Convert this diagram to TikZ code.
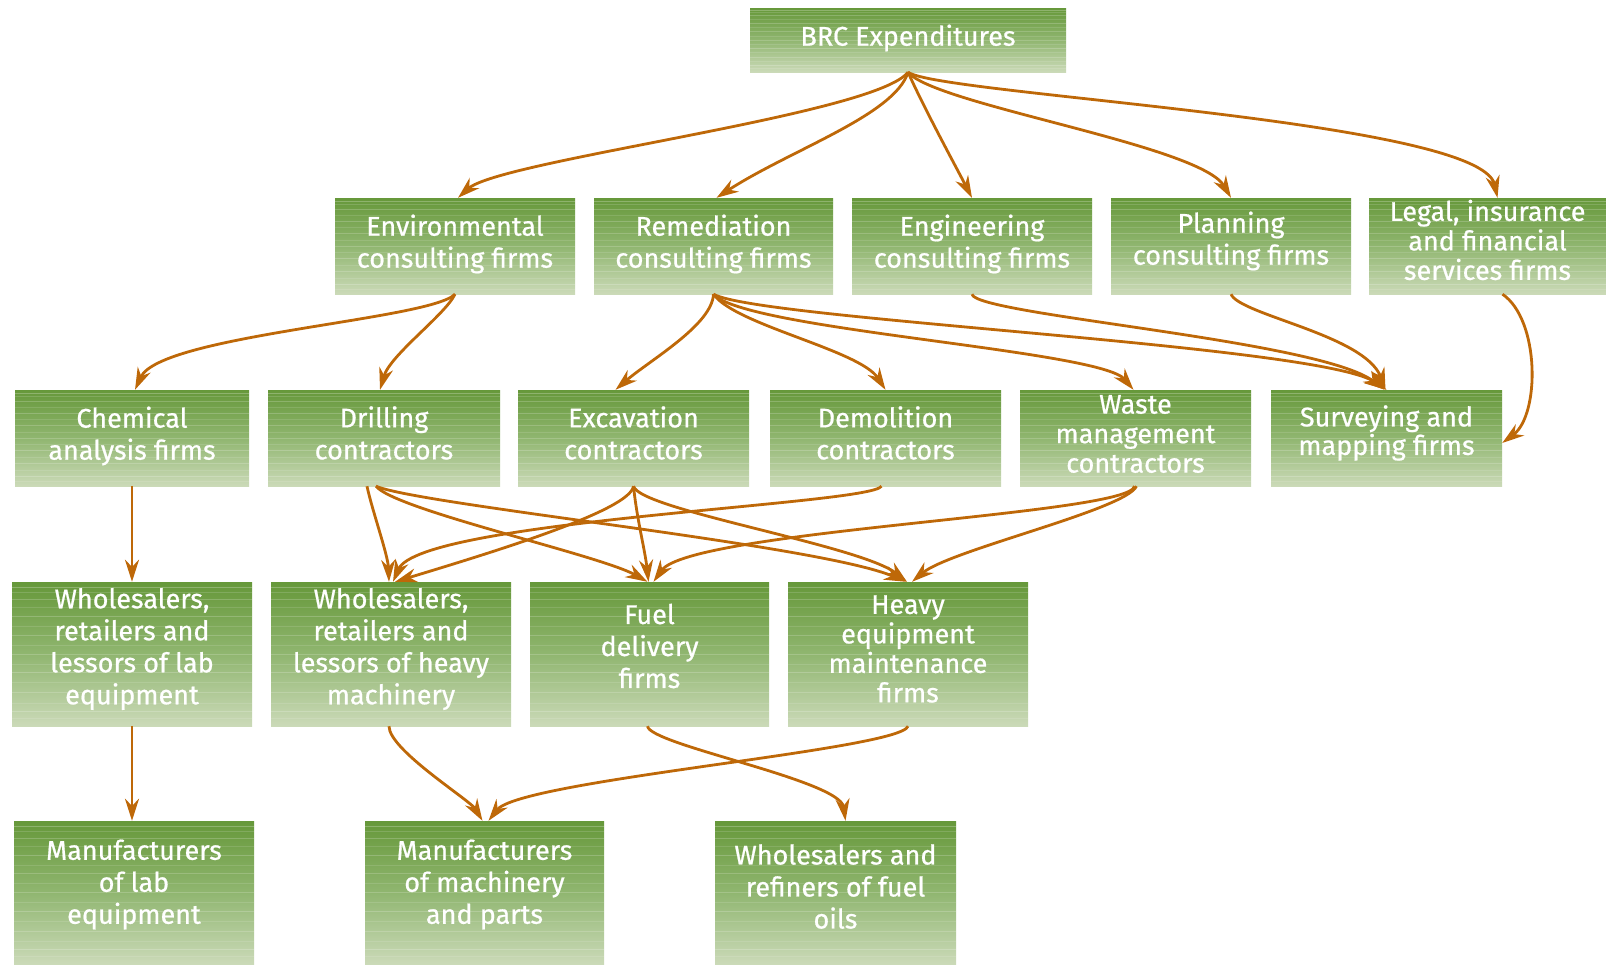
\documentclass[tikz,border=0pt]{standalone}
\usepackage{fontspec}
\setmainfont{Fira Sans}[FakeBold=0.7]
\usetikzlibrary{arrows.meta,calc}
\definecolor{gtop}{RGB}{102,152,58}
\definecolor{gmid}{RGB}{144,182,112}
\definecolor{gbot}{RGB}{203,218,184}
\definecolor{arrc}{RGB}{190,104,8}
\tikzset{
  box/.style={rectangle, inner sep=0pt, top color=gtop, bottom color=gbot, middle color=gmid,
    path picture={
      \foreach \f/\o in {0.04/0.25,0.07/0.15,0.12/0.2,0.18/0.12,0.24/0.2,0.31/0.12,0.37/0.18,0.44/0.12,0.5/0.18,0.57/0.12,0.63/0.2,0.7/0.12,0.77/0.18,0.84/0.12,0.9/0.2,0.95/0.12}
        \draw[white, opacity=\o, line width=0.9pt]
          ($(path picture bounding box.north west)!\f!(path picture bounding box.south west)$) --
          ($(path picture bounding box.north east)!\f!(path picture bounding box.south east)$);
    }},
  lbl/.style={text=white, align=center, inner sep=0pt, font=\fontsize{27}{32}\selectfont},
  tight/.style={font=\fontsize{27}{29.5}\selectfont},
  arr/.style={draw=arrc, line width=2.8pt, -{Stealth[length=22pt,width=14pt,inset=7pt]}},
}
\begin{document}
\begin{tikzpicture}[x=1pt,y=-1pt]
\useasboundingbox (0,0) rectangle (1606,964);
% boxes
\node[box, minimum width=316pt, minimum height=64pt] (brc) at (908,40) {};
\node[box, minimum width=240pt, minimum height=96pt] (env) at (455,246) {};
\node[box, minimum width=239pt, minimum height=96pt] (rem) at (713.5,246) {};
\node[box, minimum width=240pt, minimum height=96pt] (eng) at (972,246) {};
\node[box, minimum width=240pt, minimum height=96pt] (plan) at (1231,246) {};
\node[box, minimum width=237pt, minimum height=96pt] (legal) at (1487.5,246) {};
\node[box, minimum width=234pt, minimum height=96pt] (chem) at (132,438) {};
\node[box, minimum width=232pt, minimum height=96pt] (drill) at (384,438) {};
\node[box, minimum width=231pt, minimum height=96pt] (exc) at (633.5,438) {};
\node[box, minimum width=231pt, minimum height=96pt] (demo) at (885.5,438) {};
\node[box, minimum width=231pt, minimum height=96pt] (waste) at (1135.5,438) {};
\node[box, minimum width=231pt, minimum height=96pt] (surv) at (1386.5,438) {};
\node[box, minimum width=240pt, minimum height=144pt] (wlab) at (132,654) {};
\node[box, minimum width=240pt, minimum height=144pt] (wheavy) at (391,654) {};
\node[box, minimum width=239pt, minimum height=144pt] (fuel) at (649.5,654) {};
\node[box, minimum width=240pt, minimum height=144pt] (heavy) at (908,654) {};
\node[box, minimum width=240pt, minimum height=143pt] (mlab) at (134,892.5) {};
\node[box, minimum width=239pt, minimum height=143pt] (mmach) at (484.5,892.5) {};
\node[box, minimum width=241pt, minimum height=143pt] (wref) at (835.5,892.5) {};
% labels
\node[lbl] (tbrc) at ([yshift=2pt]brc.center) {BRC Expenditures};
\node[lbl] (tenv) at ([yshift=2pt]env.center) {Environmental\\consulting firms};
\node[lbl] (trem) at ([yshift=2pt]rem.center) {Remediation\\consulting firms};
\node[lbl] (teng) at ([yshift=2pt]eng.center) {Engineering\\consulting firms};
\node[lbl] (tplan) at ([yshift=5pt]plan.center) {Planning\\consulting firms};
\node[lbl, tight] (tlegal) at ([yshift=6pt]legal.center) {Legal, insurance\\and financial\\services firms};
\node[lbl] (tchem) at ([yshift=2pt]chem.center) {Chemical\\analysis firms};
\node[lbl] (tdrill) at ([yshift=5pt]drill.center) {Drilling\\contractors};
\node[lbl] (texc) at ([yshift=5pt]exc.center) {Excavation\\contractors};
\node[lbl] (tdemo) at ([yshift=5pt]demo.center) {Demolition\\contractors};
\node[lbl, tight] (twaste) at ([yshift=4pt]waste.center) {Waste\\management\\contractors};
\node[lbl, font=\fontsize{27}{28.5}\selectfont] (tsurv) at ([yshift=5pt]surv.center) {Surveying and\\mapping firms};
\node[lbl] (twlab) at ([yshift=5pt]wlab.center) {Wholesalers,\\retailers and\\lessors of lab\\equipment};
\node[lbl] (twheavy) at ([yshift=5pt]wheavy.center) {Wholesalers,\\retailers and\\lessors of heavy\\machinery};
\node[lbl] (tfuel) at ([yshift=8pt]fuel.center) {Fuel\\delivery\\firms};
\node[lbl, tight] (theavy) at ([yshift=5pt]heavy.center) {Heavy\\equipment\\maintenance\\firms};
\node[lbl] (tmlab) at ([yshift=8pt]mlab.center) {Manufacturers\\of lab\\equipment};
\node[lbl] (tmmach) at ([yshift=8pt]mmach.center) {Manufacturers\\of machinery\\and parts};
\node[lbl] (twref) at ([yshift=6pt]wref.center) {Wholesalers and\\refiners of fuel\\oils};
% connectors: BRC
\draw[arr] (brc.south) .. controls (875,115) and (500,160) .. ($(env.north)+(3,0)$);
\draw[arr] (brc.south) .. controls (895,115) and (790,150) .. ($(rem.north)+(3,0)$);
\draw[arr] (brc.south) .. controls (925,110) and (955,165) .. (eng.north);
\draw[arr] (brc.south) .. controls (935,105) and (1200,145) .. (plan.north);
\draw[arr] (brc.south) .. controls (940,95) and (1480,120) .. ($(legal.north)+(10,0)$);
% row 2 -> row 3
\draw[arr] (env.south) .. controls (430,320) and (160,335) .. ($(chem.north)+(3,0)$);
\draw[arr] (env.south) .. controls (445,315) and (390,355) .. ($(drill.north)+(-4,0)$);
\draw[arr] (rem.south) .. controls (712,325) and (650,360) .. ($(exc.north)+(-18,0)$);
\draw[arr] (rem.south) .. controls (735,325) and (860,350) .. (demo.north);
\draw[arr] (rem.south) .. controls (745,330) and (1100,350) .. ($(waste.north)+(-2,0)$);
\draw[arr] (rem.south) .. controls (760,320) and (1320,345) .. (surv.north);
\draw[arr] (eng.south) .. controls (975,315) and (1320,340) .. ($(surv.north)+(-2,0)$);
\draw[arr] (plan.south) .. controls (1240,315) and (1365,335) .. ($(surv.north)+(-1,0)$);
\draw[arr] ($(legal.south)+(15,0)$) .. controls (1540,320) and (1540,415) .. ($(surv.east)+(0,5)$);
% row 3 -> row 4
\draw[arr] (chem.south) -- (wlab.north);
\draw[arr] ($(drill.south)+(-17,0)$) .. controls (372,510) and (388,555) .. ($(wheavy.north)+(-2,0)$);
\draw[arr] ($(drill.south)+(-8,0)$) .. controls (395,510) and (600,555) .. ($(fuel.north)+(-2,0)$);
\draw[arr] ($(drill.south)+(-8,0)$) .. controls (420,505) and (820,545) .. ($(heavy.north)+(-2,0)$);
\draw[arr] (exc.south) .. controls (630,510) and (500,550) .. ($(wheavy.north)+(4,0)$);
\draw[arr] (exc.south) .. controls (637,520) and (645,550) .. ($(fuel.north)+(-1,0)$);
\draw[arr] (exc.south) .. controls (640,510) and (860,545) .. ($(heavy.north)+(-1,0)$);
\draw[arr] ($(demo.south)+(-4,0)$) .. controls (870,505) and (420,520) .. ($(wheavy.north)+(2,0)$);
\draw[arr] ($(waste.south)+(-1,0)$) .. controls (1130,515) and (690,530) .. ($(fuel.north)+(4,0)$);
\draw[arr] ($(waste.south)+(1,0)$) .. controls (1125,510) and (950,550) .. ($(heavy.north)+(4,0)$);
% row 4 -> row 5
\draw[arr] (wlab.south) -- (wlab.south |- mlab.north);
\draw[arr] ($(wheavy.south)+(-2,0)$) .. controls (389,750) and (470,800) .. ($(mmach.north)+(-2,0)$);
\draw[arr] (heavy.south) .. controls (900,750) and (520,780) .. ($(mmach.north)+(4,0)$);
\draw[arr] ($(fuel.south)+(-2,0)$) .. controls (650,745) and (840,780) .. ($(wref.north)+(10,0)$);
\end{tikzpicture}
\end{document}
